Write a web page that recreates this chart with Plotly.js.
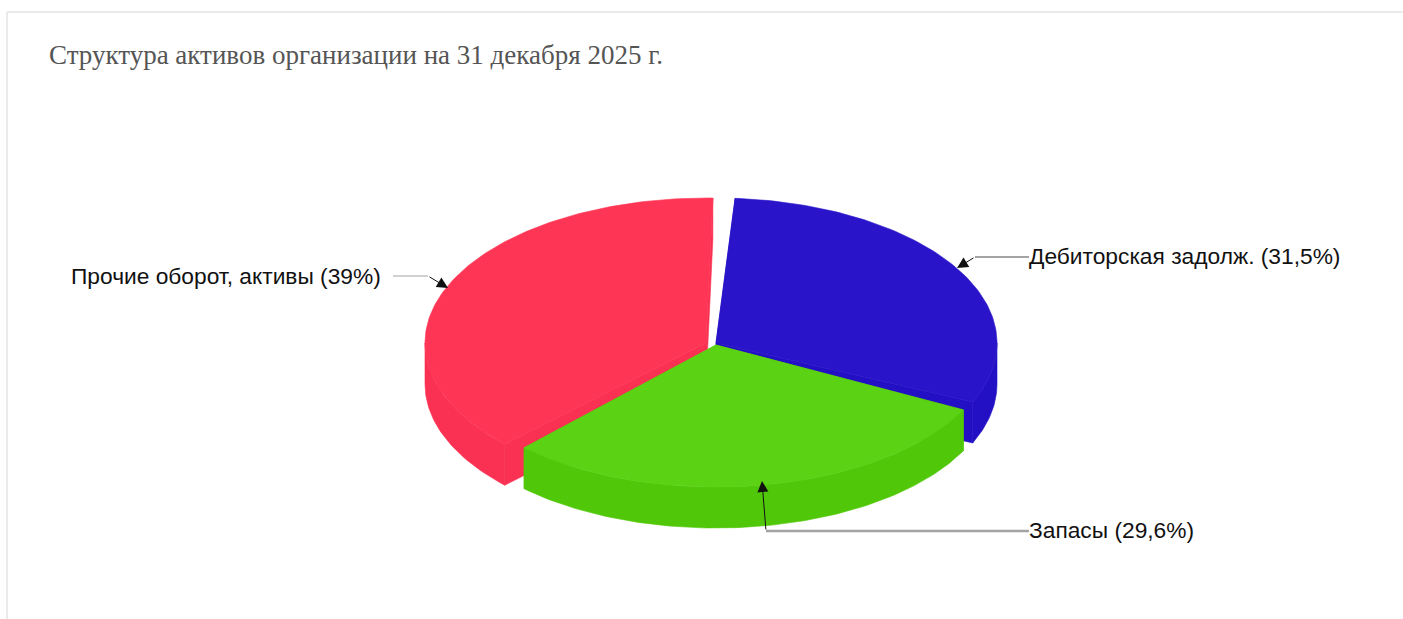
<!DOCTYPE html>
<html>
<head>
<meta charset="utf-8">
<script src="https://cdn.plot.ly/plotly-3.0.1.min.js"></script>
<style>html,body{margin:0;padding:0;background:#fff;overflow:hidden}</style>
</head>
<body>
<div id="chart" style="width:1403px;height:619px"></div>
<script>
// Data
const chartTitle = 'Структура активов организации на 31 декабря 2025 г.';
const categories = ['Прочие оборот, активы', 'Дебиторская задолж.', 'Запасы'];
const valueLabels = ['39%', '31,5%', '29,6%'];
const values = [39, 31.5, 29.6];
const topColors = ['#FF3555', '#2A14C9', '#5CD214'];
const sideColors = ['#FA3152', '#2410C4', '#50C809'];

// Pie projection (pixel-like axis units)
const W = 1403, H = 619;
const BLUE_START = 3.9;
const centres = [[706, 343], [716, 343], [716, 345]];
const radiiX = [281, 281, 278];
const radiiY = [145, 145, 142];
const depths = [41, 41, 41];
// perspective foreshortening of the cut edges, degrees at start and end of each slice
const trims = [[2.1, 2.5], [0, 3.2], [0, 0]];

const total = values.reduce((a, b) => a + b, 0);
const spans = values.map(v => v / total * 360);
// clockwise from the top: blue, green, red
const blueEnd = BLUE_START + spans[1];
const greenEnd = blueEnd + spans[2];
const ranges = [[greenEnd, greenEnd + spans[0]], [BLUE_START, blueEnd], [blueEnd, greenEnd]]
  .map((r, i) => [r[0] + trims[i][0], r[1] - trims[i][1]]);

function pt(i, deg, dz) {
  const c = centres[i], t = deg * Math.PI / 180;
  return [c[0] + radiiX[i] * Math.sin(t), c[1] - radiiY[i] * Math.cos(t) + (dz || 0)];
}
function arc(i, a, b, dz) {
  const out = [], n = Math.max(2, Math.ceil(Math.abs(b - a)));
  for (let k = 0; k <= n; k++) out.push(pt(i, a + (b - a) * k / n, dz));
  return out;
}
function fillTrace(points, color, name) {
  const closed = points.concat([points[0]]);
  return { type: 'scatter', mode: 'lines', x: closed.map(p => p[0]), y: closed.map(p => p[1]),
           fill: 'toself', fillcolor: color, line: { width: 0.6, color: color },
           name, hoverinfo: 'name', showlegend: false };
}
function sliceTraces(i) {
  const c = centres[i], [a, b] = ranges[i], d = depths[i], out = [];
  const low = [c[0], c[1] + d];
  // radial cut walls
  [a, b].forEach(e => out.push(fillTrace([c, pt(i, e), pt(i, e, d), low], sideColors[i], categories[i])));
  // outer wall, visible on the front half only
  const lo = Math.max(a, 90), hi = Math.min(b, 270);
  if (hi > lo) out.push(fillTrace(arc(i, lo, hi).concat(arc(i, hi, lo, d)), sideColors[i], categories[i]));
  out.push(fillTrace([c].concat(arc(i, a, b)), topColors[i], categories[i]));
  return out;
}
function leader(xs, ys, width) {
  return { type: 'scatter', mode: 'lines', x: xs, y: ys, line: { color: '#a3a3a3', width },
           hoverinfo: 'skip', showlegend: false };
}
function arrow(x, y, ax, ay) {
  return { x, y, ax, ay, xref: 'x', yref: 'y', axref: 'x', ayref: 'y', text: '', showarrow: true,
           arrowhead: 2, arrowsize: 2.2, arrowwidth: 1, arrowcolor: '#111' };
}
function label(i, x, y, anchor) {
  return { x, y, xref: 'x', yref: 'y', xanchor: anchor, yanchor: 'middle', showarrow: false,
           text: categories[i] + ' (' + valueLabels[i] + ')',
           font: { family: 'Liberation Sans, Arial, sans-serif', size: 22.75, color: '#111' } };
}

const traces = [];
[0, 1, 2].forEach(i => traces.push(...sliceTraces(i)));
traces.push(leader([393, 428], [276, 276], 1.2));
traces.push(leader([1029, 975], [257, 257], 2));
traces.push(leader([1029, 766], [531, 531], 2.4));

const layout = {
  width: W, height: H,
  margin: { l: 0, r: 0, t: 0, b: 0 },
  paper_bgcolor: '#fff', plot_bgcolor: '#fff',
  showlegend: false,
  xaxis: { range: [0, W], visible: false, fixedrange: true },
  yaxis: { range: [H, 0], visible: false, fixedrange: true },
  shapes: [
    { type: 'line', xref: 'x', yref: 'y', x0: 7, x1: W, y0: 12, y1: 12, line: { color: '#e4e4e4', width: 1.5 } },
    { type: 'line', xref: 'x', yref: 'y', x0: 7, x1: 7, y0: 12, y1: H, line: { color: '#e4e4e4', width: 1.5 } }
  ],
  annotations: [
    { x: 47, y: 55, xref: 'x', yref: 'y', xanchor: 'left', yanchor: 'middle', showarrow: false,
      text: chartTitle, font: { family: 'Liberation Serif, Times New Roman, serif', size: 27, color: '#555' } },
    label(0, 383, 276, 'right'),
    label(1, 1027, 256, 'left'),
    label(2, 1027, 530, 'left'),
    arrow(448, 288, 428, 276),
    arrow(957, 268, 975, 257),
    arrow(762, 481, 766, 531)
  ]
};
Plotly.newPlot('chart', traces, layout, { displayModeBar: false, staticPlot: true });
</script>
</body>
</html>
